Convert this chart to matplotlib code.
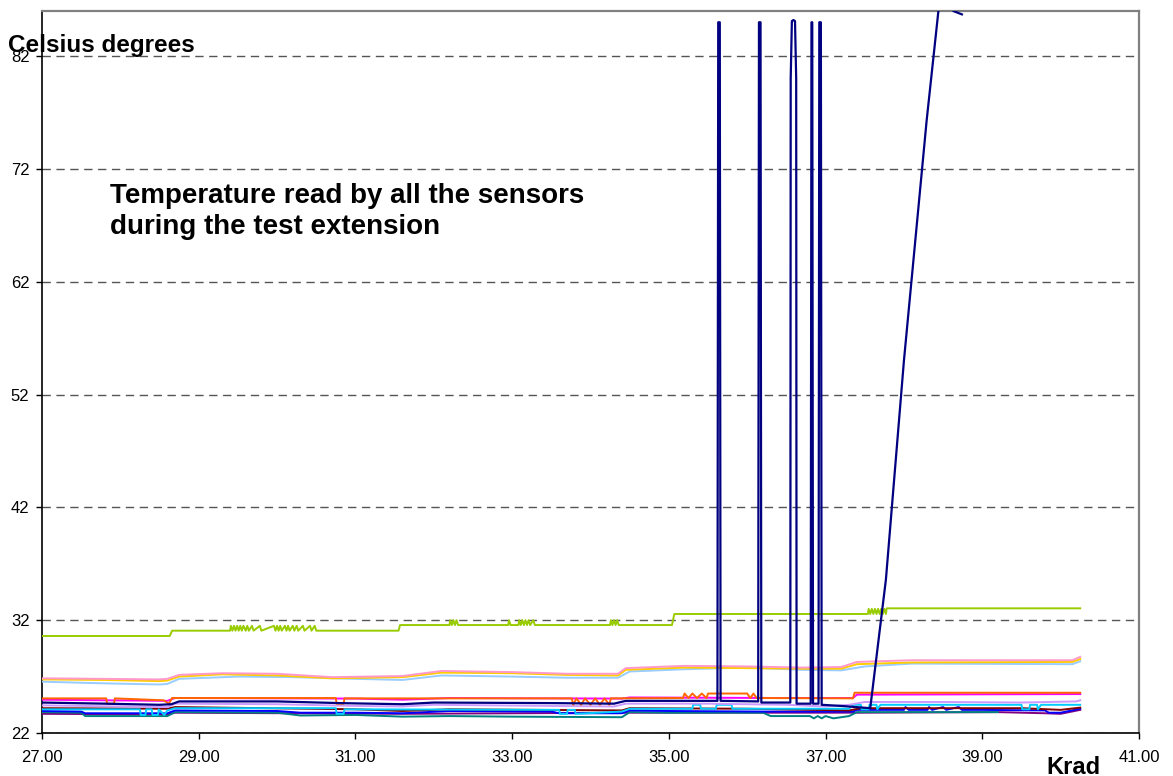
import matplotlib.pyplot as plt
from matplotlib.ticker import FormatStrFormatter

plt.rcParams['font.family'] = ['Liberation Sans', 'DejaVu Sans']

# x in Krad, y in Celsius degrees
green = [(27.0, 30.6), (28.63, 30.6), (28.66, 31.07), (29.40, 31.07), (29.41, 31.5), (29.43, 31.07),
         (29.45, 31.5), (29.47, 31.07), (29.49, 31.5), (29.51, 31.07), (29.53, 31.5), (29.55, 31.07),
         (29.57, 31.5), (29.60, 31.07), (29.62, 31.5), (29.64, 31.07), (29.68, 31.5), (29.70, 31.07),
         (29.78, 31.5), (29.80, 31.07), (29.96, 31.5), (29.98, 31.07), (30.00, 31.5), (30.02, 31.07),
         (30.04, 31.5), (30.06, 31.07), (30.10, 31.5), (30.12, 31.07), (30.14, 31.5), (30.16, 31.07),
         (30.20, 31.5), (30.22, 31.07), (30.25, 31.5), (30.27, 31.07), (30.33, 31.5), (30.35, 31.07),
         (30.42, 31.5), (30.44, 31.07), (30.48, 31.5), (30.50, 31.07), (31.55, 31.07), (31.57, 31.57),
         (32.20, 31.57), (32.21, 32.0), (32.23, 31.57), (32.25, 32.0), (32.27, 31.57), (32.29, 32.0),
         (32.31, 31.57), (32.95, 31.57), (32.96, 32.0), (32.98, 31.57), (33.08, 31.57), (33.09, 32.0),
         (33.11, 31.57), (33.13, 32.0), (33.15, 31.57), (33.17, 32.0), (33.19, 31.57), (33.21, 32.0),
         (33.23, 31.57), (33.27, 32.0), (33.29, 31.57), (34.25, 31.57), (34.26, 32.0), (34.28, 31.57),
         (34.30, 32.0), (34.32, 31.57), (34.34, 32.0), (34.36, 31.57), (35.04, 31.57), (35.07, 32.55),
         (37.54, 32.55), (37.55, 33.0), (37.57, 32.55), (37.59, 33.0), (37.61, 32.55), (37.63, 33.0),
         (37.65, 32.55), (37.67, 33.0), (37.69, 32.55), (37.71, 33.0), (37.73, 32.55), (37.75, 33.0),
         (37.77, 32.55), (37.78, 33.05), (40.25, 33.05)]

pink = [(27.0, 26.85), (27.8, 26.8), (28.5, 26.75), (28.6, 26.8), (28.75, 27.15), (29.3, 27.3),
        (30.0, 27.25), (30.7, 26.95), (31.6, 27.05), (32.1, 27.5), (33.0, 27.4), (33.7, 27.25),
        (34.35, 27.25), (34.45, 27.75), (35.2, 27.95), (36.0, 27.9), (36.7, 27.8), (37.2, 27.85),
        (37.4, 28.3), (38.1, 28.45), (40.15, 28.45), (40.25, 28.75)]

gold = [(27.0, 26.75), (27.8, 26.7), (28.5, 26.6), (28.6, 26.65), (28.75, 27.0), (29.3, 27.2),
        (30.0, 27.1), (30.7, 26.85), (31.6, 26.95), (32.1, 27.35), (33.0, 27.3), (33.7, 27.15),
        (34.35, 27.1), (34.45, 27.6), (35.2, 27.8), (36.0, 27.75), (36.7, 27.7), (37.2, 27.7),
        (37.4, 28.1), (38.1, 28.25), (40.15, 28.3), (40.25, 28.55)]

paleblue = [(27.0, 26.55), (27.8, 26.4), (28.5, 26.3), (28.6, 26.35), (28.75, 26.8), (29.5, 27.0),
            (30.2, 26.95), (31.0, 26.8), (31.6, 26.7), (32.1, 27.1), (33.0, 27.0), (33.7, 26.9),
            (34.35, 26.9), (34.5, 27.45), (35.2, 27.65), (36.0, 27.8), (36.7, 27.6), (37.2, 27.55),
            (37.5, 27.9), (38.1, 28.15), (40.15, 28.1), (40.25, 28.35)]

orange = [(27.0, 25.07), (27.82, 25.07), (27.83, 24.6), (27.92, 24.6), (27.93, 25.07), (28.55, 24.9),
          (28.62, 24.6), (28.66, 25.1), (30.75, 25.1), (30.76, 24.6), (30.85, 24.6), (30.86, 25.07),
          (33.76, 25.07), (33.78, 24.5), (33.82, 25.07), (33.88, 24.5), (33.93, 25.07), (34.00, 24.5),
          (34.06, 25.07), (34.12, 24.5), (34.18, 25.07), (34.24, 24.5), (34.26, 25.07), (35.18, 25.1),
          (35.20, 25.5), (35.25, 25.1), (35.30, 25.5), (35.36, 25.1), (35.42, 25.5), (35.48, 25.1),
          (35.50, 25.5), (36.00, 25.5), (36.04, 25.1), (36.08, 25.5), (36.12, 25.1), (36.15, 25.1),
          (37.35, 25.07), (37.37, 25.57), (40.25, 25.57)]

magenta = [(27.0, 24.95), (28.6, 24.85), (28.7, 25.1), (31.0, 25.05), (31.6, 24.95), (32.2, 25.1),
           (34.4, 25.05), (34.5, 25.15), (36.5, 25.1), (37.35, 25.1), (37.4, 25.4), (40.25, 25.45)]

lavender = [(27.0, 24.45), (28.0, 24.35), (28.6, 24.3), (28.7, 24.6), (30.0, 24.55), (31.0, 24.4),
            (31.6, 24.35), (32.0, 24.5), (33.5, 24.4), (34.3, 24.35), (34.45, 24.6), (35.5, 24.6),
            (36.5, 24.5), (37.0, 24.35), (37.3, 24.5), (37.5, 24.75), (38.5, 24.75), (39.5, 24.7),
            (40.2, 24.8), (40.25, 24.9)]

darkred = [(27.0, 24.2), (28.6, 24.15), (28.7, 24.3), (31.0, 24.1), (31.6, 23.95), (32.2, 24.1),
           (34.4, 24.0), (34.5, 24.2), (36.0, 24.15), (37.3, 24.0), (37.45, 24.2), (39.5, 24.2),
           (40.0, 24.05), (40.25, 24.25)]

skyblue = [(27.0, 24.1), (28.25, 24.1), (28.26, 23.6), (28.32, 23.6), (28.33, 24.1), (28.40, 24.1),
           (28.41, 23.6), (28.48, 23.6), (28.49, 24.1), (28.56, 23.6), (28.6, 24.0), (28.7, 24.2),
           (30.75, 24.2), (30.76, 23.7), (30.85, 23.7), (30.86, 24.1), (33.6, 24.05), (33.61, 23.7),
           (33.7, 23.7), (33.71, 24.05), (33.8, 24.05), (33.81, 23.7), (34.4, 23.9), (34.5, 24.15),
           (35.3, 24.15), (35.31, 24.5), (35.4, 24.5), (35.41, 24.15), (35.6, 24.15), (35.61, 24.5),
           (35.8, 24.5), (35.81, 24.15), (37.3, 24.15), (37.35, 24.5), (37.45, 24.5), (37.46, 24.1),
           (37.55, 24.1), (37.56, 24.5), (37.65, 24.5), (37.66, 24.1), (37.7, 24.5), (39.5, 24.5),
           (39.51, 24.1), (39.6, 24.1), (39.61, 24.5), (39.7, 24.5), (39.71, 24.1), (39.75, 24.5),
           (40.25, 24.5)]

blue = [(27.0, 23.95), (27.5, 23.9), (27.55, 23.75), (28.6, 23.75), (28.7, 24.0), (30.0, 23.95),
        (30.3, 23.8), (31.0, 23.8), (31.6, 23.75), (32.2, 23.95), (33.5, 23.9), (33.6, 23.75),
        (34.4, 23.75), (34.5, 24.0), (35.0, 23.95), (36.2, 23.9), (37.35, 23.9), (37.4, 24.05),
        (38.0, 24.05), (38.02, 24.3), (38.06, 24.05), (38.3, 24.05), (38.32, 24.3), (38.36, 24.05),
        (38.5, 24.3), (38.54, 24.05), (38.7, 24.3), (38.74, 24.05), (39.0, 24.05), (39.8, 24.0),
        (39.85, 23.8), (40.0, 23.8), (40.25, 24.15)]

teal = [(27.0, 23.85), (27.5, 23.8), (27.55, 23.5), (28.6, 23.5), (28.7, 23.85), (30.0, 23.8),
        (30.3, 23.55), (31.0, 23.6), (31.6, 23.45), (32.2, 23.5), (33.0, 23.45), (34.4, 23.4),
        (34.5, 23.85), (35.0, 23.8), (36.2, 23.8), (36.3, 23.5), (36.8, 23.5), (36.85, 23.3),
        (36.9, 23.5), (36.95, 23.3), (37.0, 23.5), (37.1, 23.3), (37.3, 23.5), (37.4, 23.85),
        (39.2, 23.85)]

purple = [(27.0, 23.7), (28.6, 23.65), (28.7, 23.8), (31.6, 23.7), (34.5, 23.8), (37.4, 23.8),
          (39.2, 23.85), (39.8, 23.75), (40.0, 23.7), (40.25, 24.05)]

navy = [(27.0, 24.7), (27.8, 24.6), (28.5, 24.5), (28.65, 24.55), (28.75, 24.8), (30.0, 24.8),
        (30.8, 24.65), (31.6, 24.55), (32.0, 24.7), (33.5, 24.65), (34.3, 24.6), (34.45, 24.85),
        (35.0, 24.85), (35.62, 24.85), (35.63, 85.0), (35.65, 85.0), (35.66, 24.85), (36.14, 24.8),
        (36.15, 85.0), (36.17, 85.0), (36.18, 24.7), (36.55, 24.7), (36.555, 80.0), (36.57, 85.1),
        (36.59, 85.2), (36.61, 85.1), (36.625, 80.0), (36.63, 24.6), (36.81, 24.6), (36.82, 85.0),
        (36.83, 85.0), (36.84, 24.6), (36.91, 24.6), (36.92, 85.0), (36.94, 85.0), (36.95, 24.5),
        (37.2, 24.4), (37.57, 24.2), (37.77, 35.6), (38.0, 55.0), (38.29, 76.3), (38.44, 86.0),
        (38.50, 87.0), (38.56, 86.8), (38.63, 86.0), (38.74, 85.7)]

series = [(green, '#99CC00'), (paleblue, '#99CCFF'), (gold, '#FFCC00'), (pink, '#FF99CC'),
          (purple, '#800080'), (teal, '#008080'), (blue, '#0000FF'), (darkred, '#800000'),
          (skyblue, '#00CCFF'), (lavender, '#CC99FF'), (magenta, '#FF00FF'), (orange, '#FF6600'),
          (navy, '#000080')]

fig = plt.figure(figsize=(11.73, 7.76), dpi=100)
ax = fig.add_axes([42 / 1173, 1 - 733 / 776, (1139 - 42) / 1173, (733 - 11) / 776])

for i in range(len(series)):
    pts, col = series[i]
    xs = [p[0] for p in pts]
    ys = [p[1] for p in pts]
    lw = 1.6 if col == '#000080' else 1.4
    ax.plot(xs, ys, color=col, lw=lw, zorder=3 + i * 0.01)

ax.set_xlim(27, 41)
ax.set_ylim(22, 86)
ax.set_xticks([27, 29, 31, 33, 35, 37, 39, 41])
ax.set_yticks([22, 32, 42, 52, 62, 72, 82])
ax.xaxis.set_major_formatter(FormatStrFormatter('%.2f'))
ax.tick_params(axis='both', direction='out', length=4, width=1, labelsize=12, colors='black')
ax.tick_params(axis='y', pad=5)
ax.tick_params(axis='x', pad=8)
ax.yaxis.grid(True, color='#555555', lw=1, linestyle=(0, (6, 4)))
ax.set_axisbelow(True)

ax.spines['top'].set_color('#808080')
ax.spines['right'].set_color('#808080')
ax.spines['top'].set_linewidth(1.6)
ax.spines['right'].set_linewidth(1.6)
ax.spines['left'].set_color('black')
ax.spines['bottom'].set_color('black')
ax.spines['left'].set_linewidth(1.2)
ax.spines['bottom'].set_linewidth(1.2)

fig.text(8 / 1173, 1 - 52 / 776, 'Celsius degrees', fontsize=17.5, fontweight='bold', va='baseline')
fig.text(1046 / 1173, 1 - 774 / 776, 'Krad', fontsize=17, fontweight='bold', va='baseline')
fig.text(110 / 1173, 1 - 203 / 776, 'Temperature read by all the sensors', fontsize=20,
         fontweight='bold', va='baseline')
fig.text(110 / 1173, 1 - 234 / 776, 'during the test extension', fontsize=20,
         fontweight='bold', va='baseline')

fig.savefig('out.png', dpi=100)
